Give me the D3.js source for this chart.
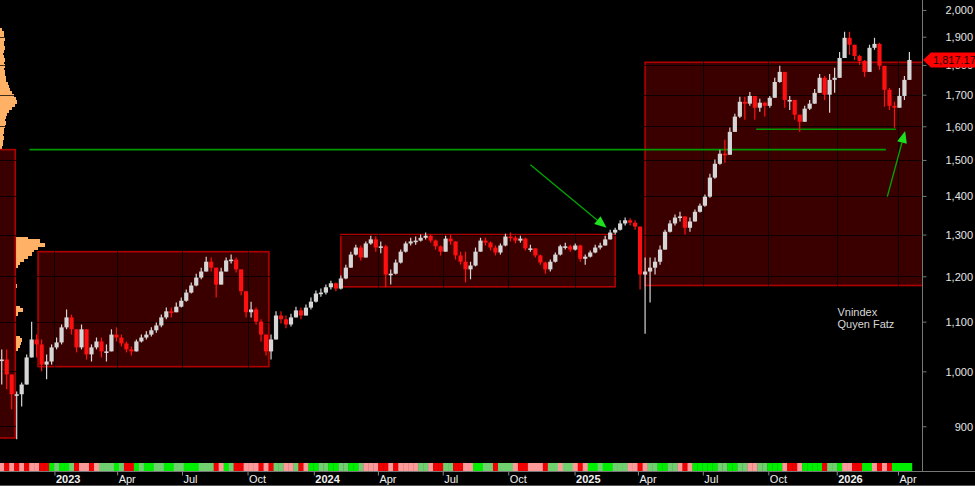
<!DOCTYPE html>
<html>
<head>
<meta charset="utf-8">
<script src="https://cdn.jsdelivr.net/npm/d3@7/dist/d3.min.js"></script>
<style>
html,body{margin:0;padding:0;background:#000;overflow:hidden;}
svg{display:block;font-family:"Liberation Sans",Arial,sans-serif;}
</style>
</head>
<body>
<svg id="chart" width="975" height="486"></svg>
<script>
// ================= DATA =================
const firstWeek = "2022-10-21";   // weekly buckets (Fridays)
const closes = [
1023,994,957,957,975,1027,1063,1053,1013,1019,
1047,1057,1088,1109,1084,1047,1084,1033,1047,1059,
1039,1039,1073,1067,1055,1043,1039,1059,1067,1073,
1082,1092,1109,1122,1120,1132,1145,1163,1179,1197,
1211,1234,1220,1181,1211,1237,1239,1216,1166,1120,
1126,1100,1073,1039,1063,1113,1105,1094,1109,1124,
1113,1130,1143,1161,1163,1175,1184,1172,1195,1220,
1251,1268,1244,1278,1288,1268,1271,1204,1206,1232,
1258,1278,1283,1285,1292,1297,1285,1271,1258,1290,
1283,1249,1234,1216,1225,1258,1285,1280,1268,1256,
1273,1295,1292,1285,1290,1266,1266,1249,1232,1216,
1234,1251,1271,1271,1263,1273,1241,1246,1256,1268,
1273,1288,1305,1312,1328,1336,1330,1320,1204,1211,
1220,1234,1263,1307,1328,1343,1346,1317,1333,1358,
1374,1398,1450,1489,1518,1515,1583,1630,1677,1671,
1696,1658,1674,1664,1690,1742,1776,1683,1683,1636,
1614,1655,1671,1706,1756,1700,1749,1756,1824,1896,
1871,1831,1814,1776,1860,1874,1797,1716,1664,1658,
1696,1749,1817.17];
const highs = [
1043,1043,994,962,979,1033,1100,1073,1063,1033,
1053,1067,1094,1126,1115,1084,1094,1084,1053,1067,
1067,1053,1084,1088,1073,1059,1049,1063,1073,1080,
1088,1098,1115,1130,1130,1141,1152,1170,1186,1206,
1220,1246,1244,1220,1220,1244,1251,1244,1216,1166,
1143,1130,1105,1073,1073,1122,1122,1113,1117,1132,
1130,1137,1152,1168,1172,1181,1190,1186,1202,1227,
1258,1275,1273,1283,1297,1295,1283,1275,1216,1239,
1263,1283,1292,1295,1300,1305,1300,1288,1273,1297,
1300,1283,1258,1258,1234,1268,1292,1292,1283,1273,
1278,1302,1305,1297,1297,1292,1275,1266,1251,1234,
1239,1256,1275,1280,1275,1278,1275,1251,1261,1275,
1280,1297,1312,1317,1336,1343,1341,1336,1320,1244,
1244,1244,1273,1312,1336,1351,1358,1346,1343,1364,
1380,1404,1461,1501,1530,1559,1596,1639,1693,1693,
1709,1696,1687,1677,1696,1756,1797,1776,1696,1683,
1636,1664,1683,1719,1769,1762,1769,1790,1845,1918,
1918,1871,1835,1817,1871,1896,1878,1797,1722,1677,
1722,1762,1845];
const lows = [
975,966,930,878,935,975,1027,1027,1000,985,
1013,1043,1053,1084,1073,1037,1043,1023,1019,1043,
1027,1019,1039,1059,1049,1037,1031,1039,1057,1063,
1069,1077,1088,1105,1109,1122,1130,1143,1161,1177,
1193,1211,1211,1152,1181,1211,1230,1209,1157,1109,
1109,1094,1059,1031,1023,1073,1096,1086,1090,1109,
1105,1113,1126,1141,1154,1159,1170,1166,1170,1193,
1220,1249,1237,1244,1275,1258,1254,1175,1181,1204,
1230,1256,1273,1275,1283,1288,1280,1263,1249,1258,
1275,1239,1227,1186,1193,1223,1258,1273,1261,1249,
1251,1271,1283,1278,1280,1261,1258,1244,1227,1206,
1211,1232,1249,1263,1258,1261,1234,1227,1244,1254,
1263,1273,1288,1300,1310,1323,1323,1312,1170,1075,
1141,1204,1227,1268,1305,1323,1333,1300,1307,1333,
1356,1371,1395,1447,1486,1492,1515,1583,1626,1620,
1664,1620,1645,1630,1658,1690,1739,1658,1651,1620,
1583,1614,1651,1671,1706,1683,1642,1706,1756,1831,
1835,1817,1800,1759,1776,1853,1783,1661,1651,1596,
1658,1683,1756];
// bottom strength strip, one code per week: R red, r pink, G green, g light green
const stripCodes = ("rRrRrRrrRR"+"GgGGgRrrRr"+"gggGgRRGgG"+"GggGGggGGG"+"gggRrGgRRr"+
  "rrRrRggrrg"+"RrGGggGGgg"+"GGgrrrRRrR"+"rrrrggrRRg"+"gRRrrGGggR"+"gggrRRrrrR"+
  "ggrggrRrGG"+"gGGgggrrRr"+"ggGGggrRrG"+"GGGGggGGgg"+"rrggGGGrRR"+"rGGGGRggGr"+
  "rRRGGrRrRG"+"GGG").split("");
// volume-by-price profile
const profilePrices = [1925,1914,1903,1892,1881,1870,1860,1849,1838,1828,1817,1807,1796,1786,1776,1766,1756,1746,1736,1726,1716,1706,1696,1687,1677,1667,1658,1648,1639,1630,1620,1611,1602,1592,1583,1574,1565,1556,1547,1538,1530,
  1297,1290,1283,1275,1268,1261,1253,1246,1239,1232,1225,1218,1211,1204,1197,1190,1184,1177,1170,1163,1157,1150,1143,1137,1130,1124,1117,1111,1105,1098,1092,1086,1080,1073,1067,1061,1055,1049,1043,1037,1031,1025];
const profileVolumes = [2,4,4,5,4,4,5,4,3,4,5,4,5,4,5,5,6,6,8,9,10,12,14,16,17,15,12,9,7,6,5,6,5,4,4,3,4,3,3,2,2,
  10,28,40,45,38,34,32,28,24,20,18,16,14,12,10,9,10,17,9,8,8,9,10,16,20,23,18,12,10,9,10,11,13,16,20,22,21,20,18,14,10,8];
// consolidation boxes
const boxStart = ["2022-09-01","2022-12-11","2024-02-09","2025-04-11"];
const boxEnd   = ["2022-11-09","2023-10-31","2025-02-28","2026-06-01"];
const boxLow   = [880,1009,1176,1179];
const boxHigh  = [1530,1258,1300,1809];
// horizontal levels
const levelStart = ["2022-11-29","2025-09-14"];
const levelEnd   = ["2026-03-15","2026-03-29"];
const levelPrice = [1530,1591];
// arrows
const arrowFromDate  = ["2024-11-01","2026-03-17"];
const arrowFromPrice = [1486,1398];
const arrowToDate    = ["2025-02-16","2026-04-11"];
const arrowToPrice   = [1317,1586];
// note
const noteDate = "2026-01-06", notePrice = 1113;
const noteLines = ["Vnindex","Quyen Fatz"];
// axes
const xTickDates  = ["2023-01-03","2023-04-01","2023-07-01","2023-10-01","2024-01-02","2024-04-01","2024-07-01","2024-10-01","2025-01-02","2025-04-01","2025-07-01","2025-10-01","2026-01-05","2026-04-01"];
const xTickLabels = ["2023","Apr","Jul","Oct","2024","Apr","Jul","Oct","2025","Apr","Jul","Oct","2026","Apr"];
const yTicks = [900,1000,1100,1200,1300,1400,1500,1600,1700,1800,1900,2000];

// ================= DRAW =================
const parse = d3.timeParse("%Y-%m-%d");
const W = 975, H = 486, R = 922, B = 471;
const FONT = "Liberation Sans, Arial, sans-serif";
const svg = d3.select("#chart");
svg.append("rect").attr("width", W).attr("height", H).attr("fill", "#000");

const x = d3.scaleTime().domain([new Date(2022, 9, 18, 14), new Date(2026, 4, 4, 16)]).range([0, R]);
const y = d3.scaleLog().domain([826, 2038.6]).range([B, 0]);

svg.append("defs").append("clipPath").attr("id", "plot")
  .append("rect").attr("width", R).attr("height", B);
const g = svg.append("g").attr("clip-path", "url(#plot)");

// volume profile
const vx = d3.scaleLinear().domain([0, 45]).range([0, 45]);
g.append("g").attr("shape-rendering", "crispEdges").selectAll("rect").data(profilePrices).join("rect")
  .attr("x", 0).attr("y", d => y(d) - 2).attr("height", 4)
  .attr("width", (d, i) => vx(profileVolumes[i])).attr("fill", "#ffb266");

// boxes
g.append("g").selectAll("rect").data(boxStart).join("rect")
  .attr("x", d => x(parse(d)))
  .attr("y", (d, i) => y(boxHigh[i]))
  .attr("width", (d, i) => x(parse(boxEnd[i])) - x(parse(d)))
  .attr("height", (d, i) => y(boxLow[i]) - y(boxHigh[i]))
  .attr("fill", "#3a0000").attr("stroke", "#b00000").attr("stroke-width", 1.6);

// grid (dark lines, visible over boxes)
const grid = g.append("g").attr("stroke", "#000").attr("stroke-opacity", 0.75).attr("stroke-width", 1);
grid.selectAll(".v").data(xTickDates).join("line").attr("class", "v")
  .attr("x1", d => Math.round(x(parse(d))) + 0.5).attr("x2", d => Math.round(x(parse(d))) + 0.5)
  .attr("y1", 0).attr("y2", B);
grid.selectAll(".h").data(yTicks).join("line").attr("class", "h")
  .attr("x1", 0).attr("x2", R)
  .attr("y1", d => Math.round(y(d)) + 0.5).attr("y2", d => Math.round(y(d)) + 0.5);

// level lines
g.append("g").selectAll("line").data(levelStart).join("line")
  .attr("x1", d => x(parse(d))).attr("x2", (d, i) => x(parse(levelEnd[i])))
  .attr("y1", (d, i) => y(levelPrice[i])).attr("y2", (d, i) => y(levelPrice[i]))
  .attr("stroke", "#009a00").attr("stroke-width", (d, i) => i === 0 ? 1.7 : 1.4);

// candles
const weeks = closes.map((c, i) => d3.timeDay.offset(parse(firstWeek), 7 * i));
const candles = closes.map((c, i) => {
  const o = i ? closes[i - 1] : c;
  return {date: weeks[i], o, c, h: Math.max(highs[i], o, c), l: Math.min(lows[i], o, c)};
});
const cg = g.append("g");
const colOf = d => d.c >= d.o ? "#d6d6d6" : "#ff1010";
cg.selectAll("line").data(candles).join("line")
  .attr("x1", d => x(d.date)).attr("x2", d => x(d.date))
  .attr("y1", d => y(d.h)).attr("y2", d => y(d.l))
  .attr("stroke", colOf).attr("stroke-width", 1.2);
cg.selectAll("rect").data(candles).join("rect")
  .attr("x", d => x(d.date) - 2.1).attr("width", 4.2)
  .attr("y", d => y(Math.max(d.o, d.c)))
  .attr("height", d => Math.max(1.6, y(Math.min(d.o, d.c)) - y(Math.max(d.o, d.c))))
  .attr("fill", colOf);

// arrows
const ag = g.append("g");
arrowFromDate.forEach((d, i) => {
  const x1 = x(parse(d)), y1 = y(arrowFromPrice[i]);
  const x2 = x(parse(arrowToDate[i])), y2 = y(arrowToPrice[i]);
  const a = Math.atan2(y2 - y1, x2 - x1), L = 12, hw = 5;
  const bx = x2 - L * Math.cos(a), by = y2 - L * Math.sin(a);
  ag.append("line").attr("x1", x1).attr("y1", y1).attr("x2", bx).attr("y2", by)
    .attr("stroke", "#00a800").attr("stroke-width", 1.3);
  ag.append("polygon")
    .attr("points", [[x2, y2], [bx + hw * Math.sin(a), by - hw * Math.cos(a)], [bx - hw * Math.sin(a), by + hw * Math.cos(a)]].map(p => p.join(",")).join(" "))
    .attr("fill", "#1ee01e");
});

// note
const nt = g.append("text").attr("x", x(parse(noteDate))).attr("y", y(notePrice))
  .attr("fill", "#d8d8d8").attr("font-size", 11).attr("font-family", FONT);
noteLines.forEach((t, i) => nt.append("tspan").attr("x", x(parse(noteDate))).attr("dy", i ? 12 : 0).text(t));

// strip
const stripColors = {R: "#f00000", r: "#ff9a9a", G: "#00ee00", g: "#70d070"};
const step = x(weeks[1]) - x(weeks[0]);
svg.append("g").selectAll("rect").data(stripCodes).join("rect")
  .attr("x", (d, i) => x(weeks[i]) - step / 2).attr("width", step + 0.3)
  .attr("y", 463).attr("height", 8)
  .attr("fill", d => stripColors[d]);

// frame lines
svg.append("line").attr("x1", 0).attr("x2", W).attr("y1", B + 0.5).attr("y2", B + 0.5).attr("stroke", "#777");
svg.append("line").attr("x1", 0).attr("x2", W).attr("y1", 485.5).attr("y2", 485.5).attr("stroke", "#555");
svg.append("line").attr("x1", R + 0.5).attr("x2", R + 0.5).attr("y1", 0).attr("y2", B).attr("stroke", "#777");

// right axis
const ya = svg.append("g").attr("transform", `translate(${R + 0.5},0)`)
  .call(d3.axisRight(y).tickValues(yTicks).tickFormat(d3.format(",")).tickSize(4));
ya.attr("font-family", FONT).attr("font-size", 11);
ya.select(".domain").remove();
ya.selectAll(".tick line").attr("stroke", "#777");
ya.selectAll(".tick text").attr("x", 50.5).attr("text-anchor", "end").attr("fill", "#e6e6e6").attr("dy", "0.36em");

// bottom axis
const xa = svg.append("g").attr("transform", `translate(0,${B + 0.5})`)
  .call(d3.axisBottom(x).tickValues(xTickDates.map(parse)).tickFormat((d, i) => xTickLabels[i]).tickSize(4));
xa.attr("font-family", FONT).attr("font-size", 11);
xa.select(".domain").remove();
xa.selectAll(".tick line").attr("stroke", "#888");
xa.selectAll(".tick text").attr("x", 1).attr("y", 11).attr("dy", 0).attr("text-anchor", "start")
  .attr("fill", "#f0f0f0")
  .attr("font-weight", (d, i) => /^\d{4}$/.test(xTickLabels[i]) ? "bold" : "normal");

// last price tag (drawn over the 1,800 label, as in the original)
const last = closes[closes.length - 1];
const ty = y(last);
svg.append("path")
  .attr("d", `M${R + 1},${ty} L${R + 9},${ty - 7.5} L${W},${ty - 7.5} L${W},${ty + 7.5} L${R + 9},${ty + 7.5} Z`)
  .attr("fill", "#ff0000");
svg.append("text").attr("x", R + 11).attr("y", ty).attr("dy", "0.36em")
  .attr("font-family", FONT).attr("font-size", 11).attr("fill", "#1a0000")
  .text(d3.format(",.2f")(last));
</script>
</body>
</html>
